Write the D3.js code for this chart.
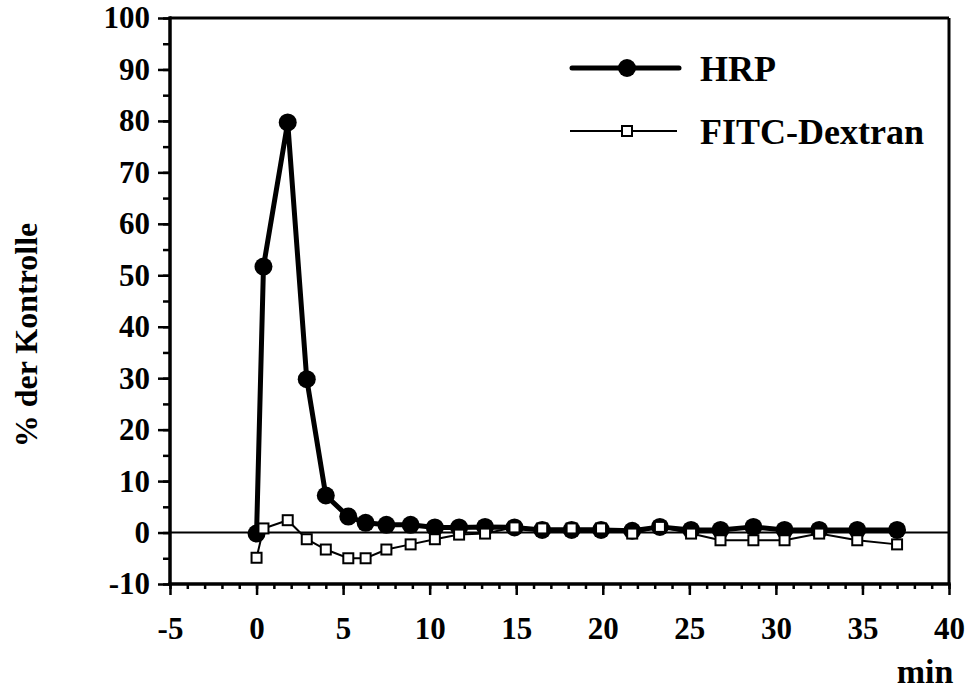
<!DOCTYPE html>
<html><head><meta charset="utf-8">
<script src="https://cdn.jsdelivr.net/npm/d3@7"></script>
<style>
html,body{margin:0;padding:0;background:#fff;}
text{font-family:"Liberation Serif","Times New Roman",serif;font-weight:bold;fill:#000;}
</style></head>
<body>
<script>
const times = [0, 0.4, 1.8, 2.9, 4.0, 5.3, 6.3, 7.5, 8.9, 10.3, 11.7, 13.2, 14.9, 16.5, 18.2, 19.9, 21.7, 23.3, 25.1, 26.8, 28.7, 30.5, 32.5, 34.7, 37.0];
const hrp = [-0.2, 51.7, 79.7, 29.8, 7.2, 3.1, 1.9, 1.5, 1.5, 1.0, 1.0, 1.1, 1.0, 0.5, 0.5, 0.5, 0.35, 1.1, 0.5, 0.5, 1.1, 0.5, 0.5, 0.5, 0.5];
const fitc = [-4.9, 0.8, 2.4, -1.3, -3.3, -5.0, -5.0, -3.3, -2.3, -1.3, -0.4, -0.2, 1.0, 0.8, 0.8, 0.8, -0.2, 1.1, -0.2, -1.5, -1.5, -1.5, -0.2, -1.5, -2.3];
const seriesNames = ["HRP", "FITC-Dextran"];
const xTicks = [-5, 0, 5, 10, 15, 20, 25, 30, 35, 40];
const yTicks = [-10, 0, 10, 20, 30, 40, 50, 60, 70, 80, 90, 100];
const xTitle = "min";
const yTitle = "% der Kontrolle";

const W = 967, H = 693;
const svg = d3.select("body").append("svg").attr("width", W).attr("height", H);
const x = d3.scaleLinear().domain([-5, 40]).range([170, 949]);
const y = d3.scaleLinear().domain([-10, 100]).range([584, 18]);
const fmt = d => String(d);

// frame top & right
svg.append("line").attr("x1", x(-5)).attr("x2", x(40)).attr("y1", y(100)).attr("y2", y(100)).attr("stroke", "#000").attr("stroke-width", 3);
svg.append("line").attr("x1", x(40)).attr("x2", x(40)).attr("y1", y(100)).attr("y2", y(-10)).attr("stroke", "#000").attr("stroke-width", 3);

// zero line
svg.append("line").attr("x1", x(-5)).attr("x2", x(40)).attr("y1", y(0)).attr("y2", y(0)).attr("stroke", "#000").attr("stroke-width", 2);

// x axis
const xMinor = d3.range(-5, 41, 1);
const xAxisG = svg.append("g").attr("transform", `translate(0,${y(-10)})`);
xAxisG.call(d3.axisBottom(x).tickValues(xMinor).tickSize(5).tickFormat(""));
xAxisG.append("g").call(d3.axisBottom(x).tickValues(xTicks).tickSize(11).tickFormat(fmt).tickPadding(22));
xAxisG.selectAll(".domain").attr("stroke-width", 3).attr("d", `M${x(-5)-1.5},0H${x(40)+1.5}`);
xAxisG.selectAll(".tick line").attr("stroke-width", 2.5);
xAxisG.selectAll(".tick text").style("font-size", "31px").attr("dy", "0.71em");

// y axis
const yMinor = d3.range(-10, 101, 5);
const yAxisG = svg.append("g").attr("transform", `translate(${x(-5)},0)`);
yAxisG.call(d3.axisLeft(y).tickValues(yMinor).tickSize(7).tickFormat(""));
yAxisG.append("g").call(d3.axisLeft(y).tickValues(yTicks).tickSize(12).tickFormat(fmt).tickPadding(8));
yAxisG.selectAll(".domain").attr("stroke-width", 3).attr("d", `M0,${y(100)-1.5}V${y(-10)+1.5}`);
yAxisG.selectAll(".tick line").attr("stroke-width", 2.5);
yAxisG.selectAll(".tick text").style("font-size", "31px");

// titles
svg.append("text").attr("x", 925).attr("y", 683).attr("text-anchor", "middle").style("font-size", "34px").text(xTitle);
svg.append("text").attr("transform", "translate(37,335) rotate(-90)").attr("text-anchor", "middle").style("font-size", "32px").text(yTitle);

// data
const hrpData = times.map((t, i) => [t, hrp[i]]);
const fitcData = times.map((t, i) => [t, fitc[i]]);
const line = d3.line().x(d => x(d[0])).y(d => y(d[1]));

svg.append("path").datum(hrpData).attr("d", line).attr("fill", "none").attr("stroke", "#000").attr("stroke-width", 5).attr("stroke-linejoin", "round");
svg.selectAll(".hrpPt").data(hrpData).enter().append("circle").attr("class", "hrpPt")
  .attr("cx", d => x(d[0])).attr("cy", d => y(d[1])).attr("r", 9).attr("fill", "#000");

svg.append("path").datum(fitcData).attr("d", line).attr("fill", "none").attr("stroke", "#000").attr("stroke-width", 2);
const sq = 10;
svg.selectAll(".fitcPt").data(fitcData).enter().append("rect").attr("class", "fitcPt")
  .attr("x", d => x(d[0]) - sq / 2).attr("y", d => y(d[1]) - sq / 2).attr("width", sq).attr("height", sq)
  .attr("fill", "#fff").attr("stroke", "#000").attr("stroke-width", 2);

// legend
const leg = svg.append("g");
leg.append("line").attr("x1", 572).attr("x2", 679).attr("y1", 68).attr("y2", 68).attr("stroke", "#000").attr("stroke-width", 5).attr("stroke-linecap", "round");
leg.append("circle").attr("cx", 627).attr("cy", 68).attr("r", 9).attr("fill", "#000");
leg.append("text").attr("x", 700).attr("y", 81).style("font-size", "36px").text(seriesNames[0]);
leg.append("line").attr("x1", 570).attr("x2", 677).attr("y1", 131).attr("y2", 131).attr("stroke", "#000").attr("stroke-width", 2);
leg.append("rect").attr("x", 627 - sq / 2).attr("y", 131 - sq / 2).attr("width", sq).attr("height", sq).attr("fill", "#fff").attr("stroke", "#000").attr("stroke-width", 2);
leg.append("text").attr("x", 700).attr("y", 144).style("font-size", "36px").text(seriesNames[1]);
</script>
</body></html>
